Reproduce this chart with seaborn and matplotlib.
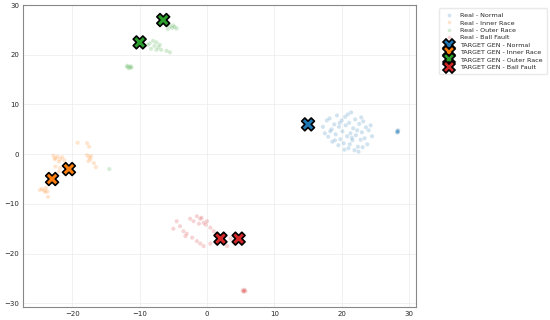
import matplotlib
matplotlib.use("Agg")
import matplotlib.pyplot as plt
import pandas as pd
import seaborn as sns

classes = ["Normal", "Inner Race", "Outer Race", "Ball Fault"]
colors = ["#1f77b4", "#ff7f0e", "#2ca02c", "#d62728"]

# real embedded samples (t-SNE coords)
normal_x = [17.2, 17.5, 17.8, 18.0, 18.2, 18.5, 18.6, 18.9, 19.1, 19.3, 19.5, 19.6, 19.8, 20.0, 20.1,
            20.3, 20.5, 20.6, 20.8, 21.0, 21.1, 21.3, 21.4, 21.6, 21.7, 21.9, 22.0, 22.1, 22.3, 22.4,
            22.6, 22.8, 23.0, 23.2, 23.4, 23.6, 23.8, 24.0, 24.3, 24.5, 19.0, 20.4, 21.5, 22.9, 18.3,
            20.9, 23.1, 19.7, 22.5, 21.2, 28.2, 28.3, 28.4, 28.25, 28.35, 28.3]
normal_y = [5.5, 4.2, 6.8, 3.5, 7.2, 5.0, 2.5, 6.0, 4.0, 7.8, 1.8, 5.5, 3.0, 6.8, 4.6,
            2.2, 7.5, 5.8, 3.6, 1.2, 6.3, 4.2, 8.4, 2.8, 5.2, 0.8, 7.0, 3.8, 4.8, 1.5,
            6.1, 2.9, 4.4, 6.6, 3.2, 5.4, 2.0, 4.8, 5.8, 3.6, 2.8, 0.9, 3.3, 7.4, 4.6,
            8.0, 1.4, 6.3, 0.5, 2.0, 4.4, 4.6, 4.8, 4.7, 4.5, 4.4]

inner_x = [-22.8, -22.5, -22.2, -21.8, -21.5, -21.2, -22.0, -22.6, -17.8, -17.5, -17.3, -17.6, -17.2,
           -16.8, -16.5, -19.2, -17.8, -17.5, -22.5, -21.8, -22.0, -21.0, -24.5, -24.2, -23.9, -23.7,
           -24.0, -23.6, -24.8]
inner_y = [-0.3, -0.8, -0.5, -1.0, -0.6, -1.2, -1.5, -1.0, -0.2, -0.6, -1.0, -1.4, -0.4,
           -1.8, -2.6, 2.3, 2.2, 1.5, -2.5, -2.8, -3.5, -2.0, -7.0, -7.3, -6.8, -7.5,
           -7.6, -8.6, -7.2]

outer_x = [-6.5, -6.0, -5.5, -5.2, -4.8, -5.8, -4.5, -5.0, -8.5, -8.0, -7.5, -7.8, -7.2, -8.3, -7.0,
           -6.8, -6.0, -5.5, -7.5, -8.8, -11.8, -11.5, -11.3, -11.6, -11.2, -11.9, -14.5]
outer_y = [26.5, 26.0, 25.8, 25.4, 25.6, 25.2, 25.3, 25.9, 22.3, 22.8, 22.5, 21.8, 21.5, 21.2, 22.0,
           21.0, 20.8, 20.5, 21.0, 22.0, 17.8, 17.5, 17.7, 17.3, 17.4, 17.6, -3.0]

ball_x = [-4.5, -5.0, -4.0, -3.5, -3.0, -2.5, -2.0, -1.5, -1.0, -0.8, -0.5, 0.0, -1.2, -0.2, 0.5,
          1.0, 1.5, -2.2, -1.5, -1.0, -0.5, 0.5, 3.0, 3.5, 4.2, 2.5, -3.2, 5.5, 5.3, 5.7, 5.6, 5.4]
ball_y = [-13.5, -15.0, -14.5, -15.5, -16.0, -13.0, -13.5, -12.5, -13.0, -12.8, -13.8, -13.5, -14.0,
          -14.2, -14.8, -15.5, -16.0, -16.8, -17.5, -18.0, -18.5, -18.0, -18.5, -17.0, -18.0, -16.5,
          -16.5, -27.5, -27.4, -27.6, -27.3, -27.7]

# generated target samples
target_x = [[15.0], [-23.0, -20.5], [-6.5, -10.0], [2.0, 4.7]]
target_y = [[6.0], [-5.0, -3.0], [27.0, 22.5], [-17.0, -17.0]]


def main() -> None:
    sns.set_style("whitegrid")
    plt.rcParams["font.family"] = ["DejaVu Sans"]

    real = pd.concat([
        pd.DataFrame({"x": normal_x, "y": normal_y, "label": "Real - Normal"}),
        pd.DataFrame({"x": inner_x, "y": inner_y, "label": "Real - Inner Race"}),
        pd.DataFrame({"x": outer_x, "y": outer_y, "label": "Real - Outer Race"}),
        pd.DataFrame({"x": ball_x, "y": ball_y, "label": "Real - Ball Fault"}),
    ])
    gen = pd.concat([
        pd.DataFrame({"x": tx, "y": ty, "label": f"TARGET GEN - {c}"})
        for c, tx, ty in zip(classes, target_x, target_y)
    ])

    fig, ax = plt.subplots(figsize=(5.5, 3.2), dpi=100)
    fig.subplots_adjust(left=0.042, right=0.756, top=0.984, bottom=0.04)

    sns.scatterplot(data=real, x="x", y="y", hue="label", palette=colors, s=9,
                    alpha=0.2, edgecolor="white", linewidth=0.3, ax=ax)
    sns.scatterplot(data=gen, x="x", y="y", hue="label", palette=colors, marker="X", s=85,
                    edgecolor="black", linewidth=1.2, ax=ax)

    ax.set_xlim(-27.3, 31)
    ax.set_ylim(-30.8, 30)
    ax.set_xticks([-20, -10, 0, 10, 20, 30])
    ax.set_yticks([-30, -20, -10, 0, 10, 20, 30])
    ax.set_xlabel("")
    ax.set_ylabel("")
    ax.tick_params(labelsize=5, pad=1, length=2)
    ax.grid(color="#ececec", linewidth=0.5)
    for sp in ax.spines.values():
        sp.set_color("#888888")
        sp.set_linewidth(0.8)

    ax.legend(loc="upper left", bbox_to_anchor=(1.05, 1.0), fontsize=4.6, frameon=True,
              edgecolor="#e4e4e4", borderpad=0.7, labelspacing=0.3, handletextpad=0.6,
              markerscale=0.9)

    plt.savefig("out.png", dpi=100)
    plt.close()


if __name__ == "__main__":
    main()
